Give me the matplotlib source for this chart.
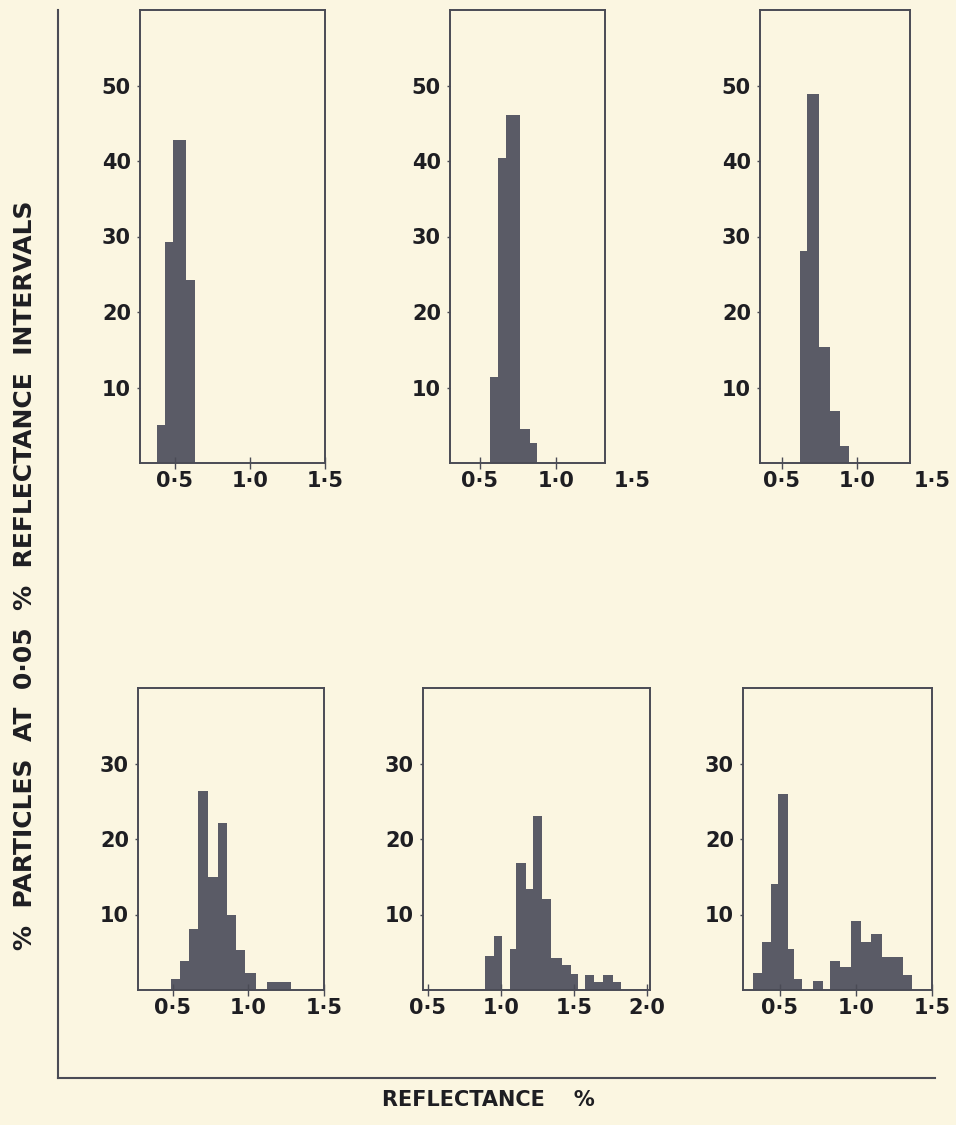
import matplotlib.pyplot as plt
from matplotlib.lines import Line2D

# reflectance bin edges (%) and % of particles in each interval
tl_edges = [0.38, 0.435, 0.49, 0.575, 0.635]
tl_pct = [5.0, 29.3, 42.8, 24.2]

tm_edges = [0.565, 0.62, 0.67, 0.76, 0.83, 0.875]
tm_pct = [11.4, 40.4, 46.1, 4.5, 2.7]

tr_edges = [0.62, 0.665, 0.745, 0.82, 0.89, 0.95]
tr_pct = [28.1, 48.9, 15.4, 6.9, 2.3]

bl_edges = [0.49, 0.55, 0.605, 0.67, 0.735, 0.80, 0.86, 0.92, 0.98, 1.05, 1.12, 1.28]
bl_pct = [1.4, 3.9, 8.1, 26.4, 15.0, 22.1, 10.0, 5.3, 2.3, 0, 1.1]

bm_edges = [0.89, 0.95, 1.01, 1.06, 1.10, 1.17, 1.22, 1.28, 1.34, 1.42, 1.48,
            1.53, 1.575, 1.64, 1.70, 1.77, 1.82]
bm_pct = [4.5, 7.2, 0, 5.4, 16.8, 13.4, 23.1, 12.1, 4.3, 3.3, 2.1, 0, 2.0, 1.1, 2.0, 1.1]

br_edges = [0.325, 0.38, 0.44, 0.49, 0.55, 0.595, 0.645, 0.715, 0.785, 0.83, 0.895,
            0.965, 1.035, 1.10, 1.17, 1.245, 1.31, 1.37]
br_pct = [2.2, 6.4, 14.0, 25.9, 5.4, 1.5, 0, 1.2, 0, 3.9, 3.1, 9.1, 6.4, 7.4, 4.4, 4.4, 2.0]

top_yticks = [10, 20, 30, 40, 50]
bot_yticks = [10, 20, 30]
xticks_std = [0.5, 1.0, 1.5]
xticks_wide = [0.5, 1.0, 1.5, 2.0]
xlabels_std = ["0·5", "1·0", "1·5"]
xlabels_wide = ["0·5", "1·0", "1·5", "2·0"]

BG = "#fbf6e1"
BAR = "#5a5b66"
INK = "#4a4b55"
TXT = "#1e1e22"
W, H = 956, 1125

plt.rcParams['font.family'] = ['DejaVu Sans']
plt.rcParams['font.weight'] = 'bold'

fig = plt.figure(figsize=(W / 100, H / 100), dpi=100, facecolor=BG)


def panel(box, xlim, ylim, edges, pct, yticks, xticks, xlabels):
    l, r, t, b = box
    ax = fig.add_axes([l / W, 1 - b / H, (r - l) / W, (b - t) / H])
    ax.set_facecolor(BG)
    ax.stairs(pct, edges, fill=True, color=BAR, linewidth=0)
    ax.set_xlim(xlim)
    ax.set_ylim(ylim)
    for s in ax.spines.values():
        s.set_color(INK)
        s.set_linewidth(1.4)
    ax.set_yticks(yticks)
    ax.set_yticklabels([str(v) for v in yticks], fontsize=15, fontweight='bold', color=TXT)
    ax.tick_params(axis='y', direction='out', length=2.5, width=1, color=INK, pad=4)
    inside = [x for x in xticks if xlim[0] <= x <= xlim[1]]
    ax.set_xticks(inside)
    ax.set_xticklabels([])
    ax.tick_params(axis='x', direction='inout', length=8, width=1, color=INK)
    for x, lab in zip(xticks, xlabels):
        ax.annotate(lab, (x, 0), xycoords=ax.get_xaxis_transform(), xytext=(0, -6),
                    textcoords='offset points', ha='center', va='top', fontsize=15,
                    fontweight='bold', color=TXT, annotation_clip=False)
    return ax


panel((140, 325, 10, 463), (0.267, 1.5), (0, 60), tl_edges, tl_pct, top_yticks, xticks_std, xlabels_std)
panel((450, 605, 10, 463), (0.303, 1.322), (0, 60), tm_edges, tm_pct, top_yticks, xticks_std, xlabels_std)
panel((760, 910, 10, 463), (0.355, 1.355), (0, 60), tr_edges, tr_pct, top_yticks, xticks_std, xlabels_std)
panel((138, 324, 688, 990), (0.27, 1.5), (0, 40), bl_edges, bl_pct, bot_yticks, xticks_std, xlabels_std)
panel((423, 650, 688, 990), (0.466, 2.02), (0, 40), bm_edges, bm_pct, bot_yticks, xticks_wide, xlabels_wide)
panel((743, 932, 688, 990), (0.257, 1.5), (0, 40), br_edges, br_pct, bot_yticks, xticks_std, xlabels_std)

# outer L-shaped frame
fig.add_artist(Line2D([58 / W, 58 / W], [1 - 10 / H, 1 - 1078 / H], transform=fig.transFigure,
                      color=INK, linewidth=1.5))
fig.add_artist(Line2D([58 / W, 935 / W], [1 - 1078 / H, 1 - 1078 / H], transform=fig.transFigure,
                      color=INK, linewidth=1.5))

fig.text(25 / W, 1 - 575 / H, "%  PARTICLES  AT  0·05  %  REFLECTANCE  INTERVALS",
         rotation=90, ha='center', va='center', fontsize=18, fontweight='bold', color=TXT)
fig.text(488 / W, 1 - 1100 / H, "REFLECTANCE    %", ha='center', va='center',
         fontsize=15, fontweight='bold', color=TXT)

fig.savefig("out.png", dpi=100, facecolor=BG)
